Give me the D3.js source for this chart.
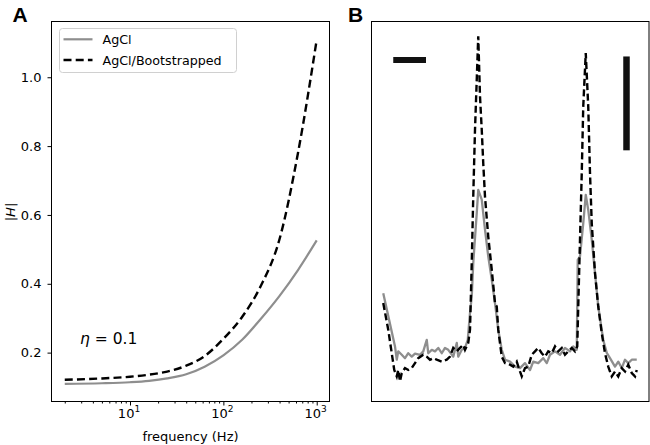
<!DOCTYPE html>
<html><head><meta charset="utf-8">
<script src="https://cdn.jsdelivr.net/npm/d3@7"></script>
<style>
body{margin:0;background:#fff}
text{font-family:"DejaVu Sans",sans-serif;fill:#000}
</style></head>
<body>
<svg id="c" width="650" height="445"></svg>
<script>
// ---------- Panel A data ----------
const freq  = [2,5,10,16,25,40,63,100,160,250,400,630,1000];
const agcl  = [0.109,0.111,0.114,0.118,0.125,0.137,0.159,0.192,0.238,0.297,0.365,0.440,0.526];
const boot  = [0.121,0.125,0.130,0.136,0.145,0.162,0.190,0.240,0.305,0.392,0.530,0.780,1.109];
const yTicksA = [0.2,0.4,0.6,0.8,1.0];
const xMajorA = [10,100,1000];
const xMinorA = [2,3,4,5,6,7,8,9,20,30,40,50,60,70,80,90,200,300,400,500,600,700,800,900];
const seriesNames = ["AgCl","AgCl/Bootstrapped"];

// ---------- Panel B data (sample index, amplitude) ----------
const tGray = [0,4.7,5.4,6.0,7.4,8.7,10.0,11.4,12.7,14.7,16.0,17.4,18.0,19.4,20.7,22.0,23.4,24.7,26.0,28.0,29.4,30.0,31.4,32.7,33.8,34.7,35.4,36.0,37.4,38.0,39.4,40.7,42.0,43.4,44.7,46.0,47.4,48.7,50.7,52.7,54.7,56.7,58.7,60.0,62.0,64.0,65.4,66.7,68.7,70.7,72.7,74.7,76.0,77.4,77.8,78.7,80.0,81.0,82.0,83.4,84.7,86.0,88.0,89.4,90.7,92.7,94.0,95.4,96.7,98.0,99.4,101.4];
const vGray = [28.5,14.5,11.0,13.2,12.3,11.4,12.7,11.8,12.6,12.3,13.2,16.2,12.7,13.6,13.2,14.1,12.7,14.1,13.6,11.8,15.4,11.8,13.6,14.1,16.2,23.3,27.6,36.4,49.6,55.7,53.1,45.2,38.2,32.0,25.9,18.9,13.6,11.0,10.5,9.2,8.8,10.1,8.3,10.5,10.1,11.4,10.1,12.3,13.2,12.3,14.1,13.2,14.5,13.6,37.3,38.2,46.9,54.4,50.4,42.6,33.8,25.0,16.2,12.8,11.4,9.2,10.5,8.8,11.0,10.1,11.0,11.0];
const tBoot = [0,2.0,3.4,4.4,5.4,6.0,6.7,7.4,8.7,10.0,11.4,12.7,14.0,16.0,17.4,18.7,20.0,21.4,23.4,25.4,26.7,28.0,29.4,30.7,32.0,32.7,34.0,34.7,35.4,36.0,36.7,37.4,38.0,38.7,39.4,40.0,40.7,42.0,43.4,44.7,45.4,46.0,47.4,48.7,50.7,52.0,53.4,54.7,55.4,56.7,58.0,59.4,60.7,62.0,63.4,64.7,66.0,67.4,68.7,70.0,71.4,72.7,74.0,75.4,76.7,77.6,78.0,78.7,79.4,80.0,81.0,82.0,82.7,83.4,84.7,86.0,87.4,88.7,90.0,91.4,92.7,94.0,95.4,96.7,98.0,99.4,100.7,101.4];
const vBoot = [25.9,18.9,12.7,8.3,6.6,8.3,5.3,7.5,8.8,8.3,8.8,10.1,11.4,12.3,11.8,11.0,11.4,11.0,10.5,11.0,11.8,14.1,13.2,14.1,14.9,13.6,15.4,18.9,36.5,53.9,71.5,84.7,96.1,80.3,71.5,62.7,53.9,43.4,34.7,25.9,25.0,18.9,11.8,10.1,9.7,9.2,10.5,7.9,6.6,8.8,9.2,12.3,13.2,14.1,12.7,11.8,13.2,12.7,14.5,13.2,14.1,12.3,13.2,14.1,13.2,14.5,25.0,42.6,60.1,77.6,91.7,77.6,60.1,46.9,33.8,25.0,18.0,12.7,9.2,6.6,7.9,6.6,8.8,7.9,9.7,7.5,6.6,8.3];
// scale bars (data units)
const hBarT = [4.0, 17.1], hBarV = 89.9;
const vBarT = 97.3, vBarV = [66.1, 90.8];

const GRAY = "#8e8e8e";
const svg = d3.select("#c");

// ================= Panel A =================
const A = {l:51.5, t:21.5, r:329.5, b:401.5};
const xA = d3.scaleLog().domain([Math.pow(10,0.159), Math.pow(10,3.137)]).range([A.l, A.r]);
const yA = d3.scaleLinear().domain([0.058, 1.162]).range([A.b, A.t]);

const gA = svg.append("g");
const yAx = gA.append("g").attr("transform",`translate(${A.l},0)`)
  .call(d3.axisLeft(yA).tickValues(yTicksA).tickSize(4).tickPadding(6).tickFormat(d3.format(".1f")));
yAx.select(".domain").remove();
yAx.selectAll("text").style("font-size","13px").style("font-family","DejaVu Sans");
const xAx = gA.append("g").attr("transform",`translate(0,${A.b})`)
  .call(d3.axisBottom(xA).tickValues(xMajorA).tickSize(4).tickFormat(""));
xAx.select(".domain").remove();
const xAxm = gA.append("g").attr("transform",`translate(0,${A.b})`)
  .call(d3.axisBottom(xA).tickValues(xMinorA).tickSize(2).tickFormat(""));
xAxm.select(".domain").remove();
gA.selectAll(".tick line").attr("stroke","#000");
xMajorA.forEach(v=>{
  const t = gA.append("text").attr("x", xA(v)-1).attr("y", 418)
    .attr("text-anchor","middle").style("font-size","13px");
  t.append("tspan").text("10");
  t.append("tspan").attr("dy",-6).style("font-size","9px").text(String(Math.round(Math.log10(v))));
});
const lineA = d3.line().x((d,i)=>xA(freq[i])).y(d=>yA(d)).curve(d3.curveMonotoneX);
gA.append("path").attr("d", lineA(agcl)).attr("fill","none").attr("stroke",GRAY).attr("stroke-width",2.2);
gA.append("path").attr("d", lineA(boot)).attr("fill","none").attr("stroke","#000").attr("stroke-width",2.4).attr("stroke-dasharray","8,4.2");
gA.append("rect").attr("x",A.l).attr("y",A.t).attr("width",A.r-A.l).attr("height",A.b-A.t)
  .attr("fill","none").attr("stroke","#000").attr("stroke-width",1);
gA.append("text").attr("x",(A.l+A.r)/2).attr("y",441).attr("text-anchor","middle").style("font-size","13px").text("frequency (Hz)");
const yl = gA.append("text").attr("transform","translate(15,212) rotate(-90)").attr("text-anchor","middle").style("font-size","13px");
yl.append("tspan").text("|");
yl.append("tspan").style("font-style","italic").text("H");
yl.append("tspan").text("|");
const eta = gA.append("text").attr("x",80).attr("y",344).style("font-size","15.5px");
eta.append("tspan").style("font-style","italic").text("η");
eta.append("tspan").text(" = 0.1");
gA.append("rect").attr("x",59.5).attr("y",28.5).attr("width",177).attr("height",44).attr("rx",3)
  .attr("fill","#fff").attr("fill-opacity",0.85).attr("stroke","#d0d0d0").attr("stroke-width",1);
gA.append("line").attr("x1",63.5).attr("x2",92.5).attr("y1",39.3).attr("y2",39.3).attr("stroke",GRAY).attr("stroke-width",2.2);
gA.append("line").attr("x1",63.5).attr("x2",92.5).attr("y1",60).attr("y2",60).attr("stroke","#000").attr("stroke-width",2.4).attr("stroke-dasharray","8,4.2");
gA.append("text").attr("x",102.5).attr("y",44).style("font-size","12.7px").text(seriesNames[0]);
gA.append("text").attr("x",102.5).attr("y",64.5).style("font-size","12.7px").text(seriesNames[1]);
svg.append("text").attr("x",12.5).attr("y",22).style("font-family","Liberation Sans, Arial, sans-serif").style("font-weight","bold").style("font-size","21px").text("A");

// ================= Panel B =================
const B = {l:371.5, t:21.5, r:649, b:401.5};
const xB = d3.scaleLinear().domain([-4.7, 106.3]).range([B.l, B.r]);
const yB = d3.scaleLinear().domain([0, 100]).range([B.b, B.t]);
const gB = svg.append("g");
const lineG = d3.line().x((d,i)=>xB(tGray[i])).y(d=>yB(d));
const lineD = d3.line().x((d,i)=>xB(tBoot[i])).y(d=>yB(d));
gB.append("path").attr("d", lineG(vGray)).attr("fill","none").attr("stroke",GRAY).attr("stroke-width",2.3).attr("stroke-linejoin","round");
gB.append("path").attr("d", lineD(vBoot)).attr("fill","none").attr("stroke","#000").attr("stroke-width",2.4).attr("stroke-dasharray","7,3.5");
gB.append("line").attr("x1",xB(hBarT[0])).attr("x2",xB(hBarT[1])).attr("y1",yB(hBarV)).attr("y2",yB(hBarV))
  .attr("stroke","#111").attr("stroke-width",6);
gB.append("line").attr("x1",xB(vBarT)).attr("x2",xB(vBarT)).attr("y1",yB(vBarV[0])).attr("y2",yB(vBarV[1]))
  .attr("stroke","#111").attr("stroke-width",6.5);
gB.append("rect").attr("x",B.l).attr("y",B.t).attr("width",B.r-B.l).attr("height",B.b-B.t)
  .attr("fill","none").attr("stroke","#000").attr("stroke-width",1);
svg.append("text").attr("x",348).attr("y",22).style("font-family","Liberation Sans, Arial, sans-serif").style("font-weight","bold").style("font-size","21px").text("B");
</script>
</body></html>
